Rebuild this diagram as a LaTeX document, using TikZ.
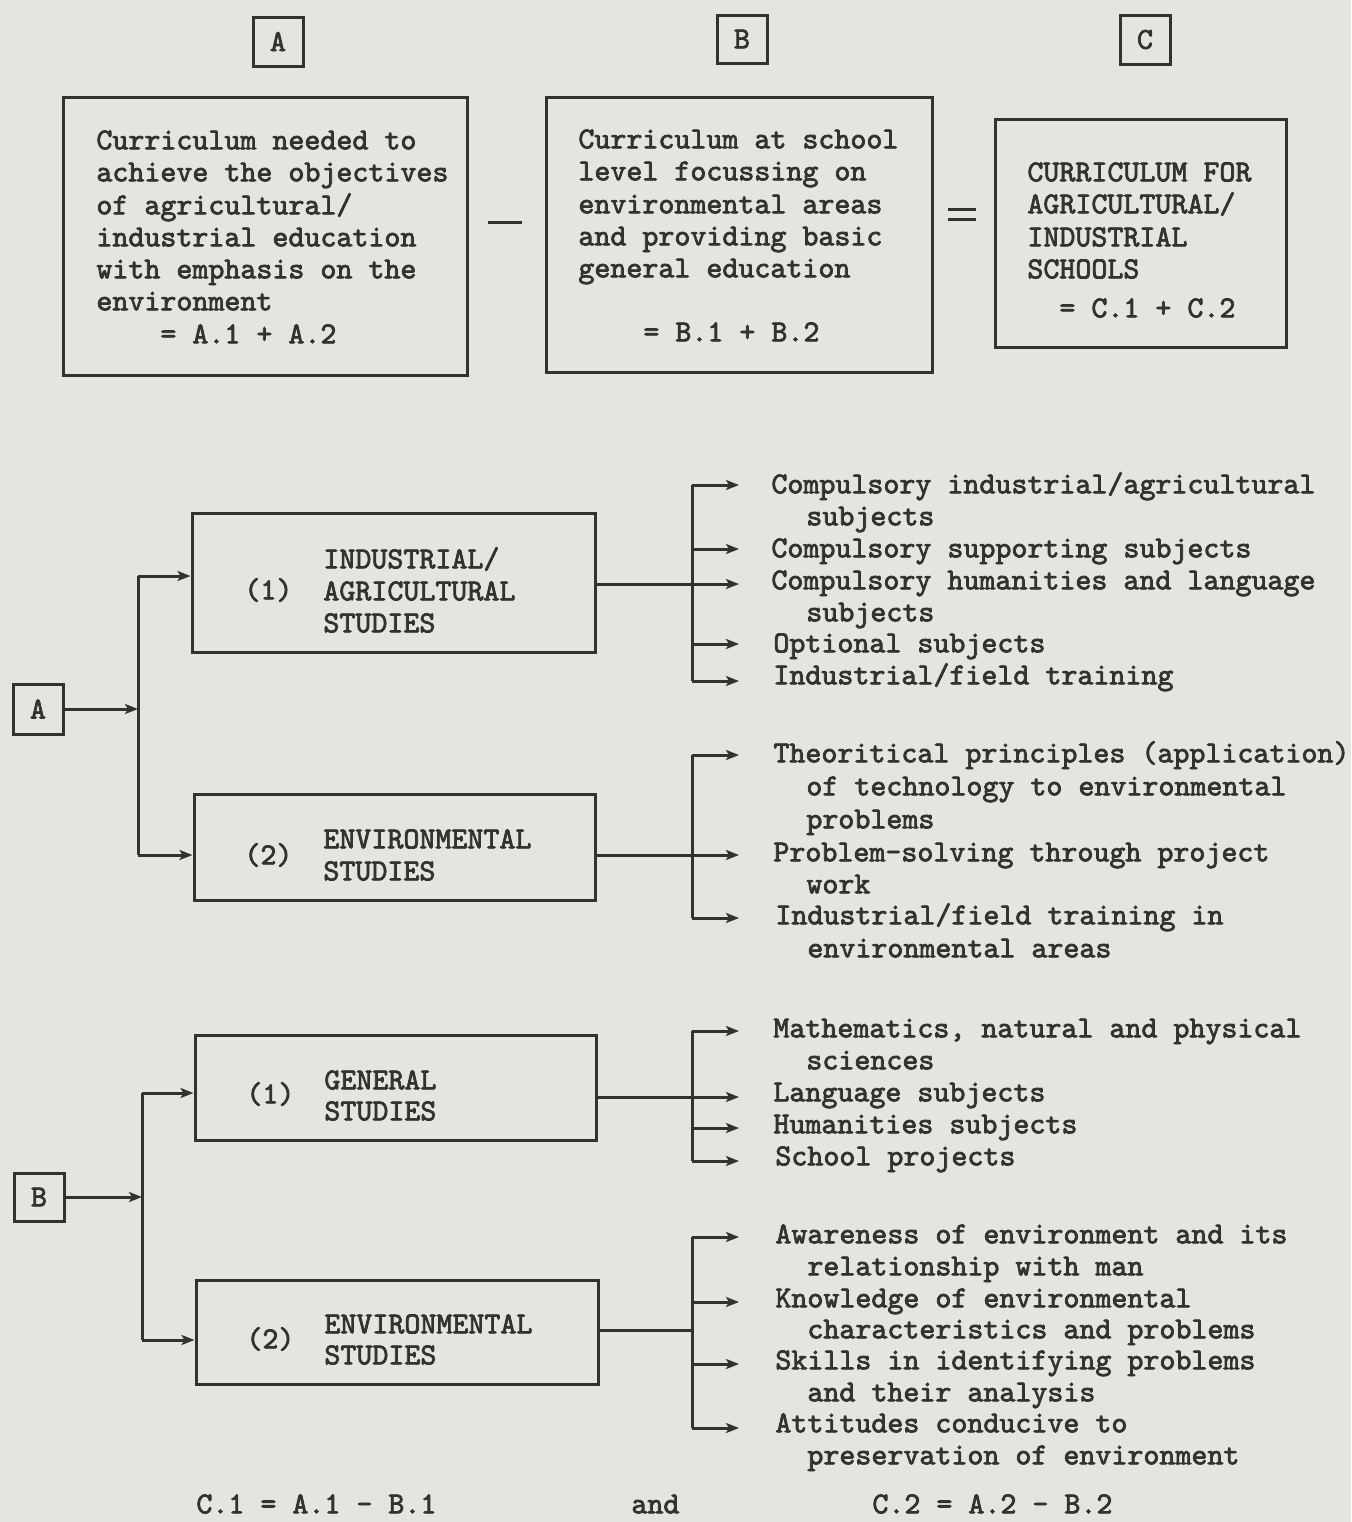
\documentclass[tikz,border=0pt]{standalone}
\usepackage{fontspec}
\usetikzlibrary{arrows.meta,fit}
\newfontfamily\tw{lmmono10-regular}[Extension=.otf,FakeBold=2.4]
\definecolor{paper}{RGB}{227,230,222}
\definecolor{ink}{RGB}{50,50,48}
\begin{document}
\begin{tikzpicture}[x=0.5pt,y=-0.5pt,
  txt/.style={anchor=mid west,inner sep=0pt,yshift=-2pt,font=\tw\fontsize{15.24}{16}\selectfont,text=ink},
  lbl/.style={anchor=center,inner sep=0pt,font=\tw\fontsize{15.24}{16}\selectfont,text=ink},
  box/.style={draw=ink,line width=1.5pt,inner sep=0pt},
  wire/.style={draw=ink,line width=1.5pt},
  arr/.style={wire,-{Stealth[length=6.5pt,width=5pt,inset=1.5pt]}}]

% page
\fill[paper] (0,0) rectangle (1351,1522);
\useasboundingbox (0,0) rectangle (1351,1522);

% ---------- top: A - B = C ----------
\node[box,fit={(253,17)(303,66)}] (hA) {};
\node[box,fit={(717,15)(767,63)}] (hB) {};
\node[box,fit={(1120,15)(1170,64)}] (hC) {};
\node[lbl] (hAt) at (hA) {A};
\node[lbl] (hBt) at (hB) {B};
\node[lbl] (hCt) at (hC) {C};

\node[box,fit={(63,97)(467,375)}] (bA) {};
\node[box,fit={(546,97)(932,372)}] (bB) {};
\node[box,fit={(995,119)(1286,347)}] (bC) {};

\foreach \x/\y/\t [count=\i] in {
  96/141/{Curriculum needed to},
  96/173/{achieve the objectives},
  96/206/{of agricultural/},
  96/238/{industrial education},
  96/270/{with emphasis on the},
  96/302/{environment},
  160/335/{= A.1 + A.2}}
  \node[txt] (ta\i) at (\x,\y) {\t};

\foreach \x/\y/\t [count=\i] in {
  578/140/{Curriculum at school},
  578/172/{level focussing on},
  578/205/{environmental areas},
  578/237/{and providing basic},
  578/269/{general education},
  643/333/{= B.1 + B.2}}
  \node[txt] (tb\i) at (\x,\y) {\t};

\foreach \x/\y/\t [count=\i] in {
  1027/173/{CURRICULUM FOR},
  1027/205/{AGRICULTURAL/},
  1027/238/{INDUSTRIAL},
  1027/270/{SCHOOLS},
  1059/309/{= C.1 + C.2}}
  \node[txt] (tc\i) at (\x,\y) {\t};

% minus and equals signs
\draw[wire] (488,222) -- (522,222);
\draw[wire] (948,209) -- (976,209);
\draw[wire] (948,219) -- (976,219);

% ---------- A branch ----------
\node[box,fit={(13,684)(63,734)}] (sA) {};
\node[lbl] (sAt) at (sA) {A};
\node[box,fit={(192,513)(595,652)}] (m1) {};
\node[box,fit={(194,794)(595,900)}] (m2) {};

\coordinate (jA) at (138,709);
\coordinate (jA1) at (138,576);
\coordinate (jA2) at (138,855);
\draw[arr] (sA.east) -- (jA);
\draw[wire] (jA1) -- (jA2);
\draw[arr] (jA1) -- (m1.west |- jA1);
\draw[arr] (jA2) -- (m2.west |- jA2);

\node[txt] (n11) at (244,591) {(1)};
\node[txt] (m1a) at (323,560) {INDUSTRIAL/};
\node[txt] (m1b) at (323,592) {AGRICULTURAL};
\node[txt] (m1c) at (323,624) {STUDIES};
\node[txt] (n12) at (244,856) {(2)};
\node[txt] (m2a) at (323,840) {ENVIRONMENTAL};
\node[txt] (m2b) at (323,872) {STUDIES};

% outputs of (1)
\coordinate (k1) at (692,584);
\draw[wire] (m1.east |- k1) -- (k1);
\draw[wire] (692,485) -- (692,681);
\foreach \y in {485,549,584,644,681}
  \draw[arr] (692,\y) -- (739,\y);
\foreach \x/\y/\t [count=\i] in {
  771/485/{Compulsory industrial/agricultural},
  806/517/{subjects},
  771/549/{Compulsory supporting subjects},
  771/581/{Compulsory humanities and language},
  806/613/{subjects},
  773/644/{Optional subjects},
  773/676/{Industrial/field training}}
  \node[txt] (o1\i) at (\x,\y) {\t};

% outputs of (2)
\coordinate (k2) at (692,855);
\draw[wire] (m2.east |- k2) -- (k2);
\draw[wire] (692,755) -- (692,918);
\foreach \y in {755,855,918}
  \draw[arr] (692,\y) -- (739,\y);
\foreach \x/\y/\t [count=\i] in {
  773/754/{Theoritical principles (application)},
  806/787/{of technology to environmental},
  806/820/{problems},
  773/853/{Problem-solving through project},
  806/885/{work},
  775/916/{Industrial/field training in},
  807/949/{environmental areas}}
  \node[txt] (o2\i) at (\x,\y) {\t};

% ---------- B branch ----------
\node[box,fit={(14,1173)(64,1221)}] (sB) {};
\node[lbl] (sBt) at (sB) {B};
\node[box,fit={(195,1035)(596,1140)}] (g1) {};
\node[box,fit={(196,1280)(598,1384)}] (g2) {};

\coordinate (jB) at (142,1197);
\coordinate (jB1) at (142,1093);
\coordinate (jB2) at (142,1340);
\draw[arr] (sB.east) -- (jB);
\draw[wire] (jB1) -- (jB2);
\draw[arr] (jB1) -- (g1.west |- jB1);
\draw[arr] (jB2) -- (g2.west |- jB2);

\node[txt] (n21) at (246,1095) {(1)};
\node[txt] (g1a) at (324,1081) {GENERAL};
\node[txt] (g1b) at (324,1112) {STUDIES};
\node[txt] (n22) at (246,1340) {(2)};
\node[txt] (g2a) at (324,1325) {ENVIRONMENTAL};
\node[txt] (g2b) at (324,1356) {STUDIES};

% outputs of general studies
\coordinate (k3) at (692,1097);
\draw[wire] (g1.east |- k3) -- (k3);
\draw[wire] (692,1031) -- (692,1161);
\foreach \y in {1031,1097,1128,1161}
  \draw[arr] (692,\y) -- (739,\y);
\foreach \x/\y/\t [count=\i] in {
  773/1029/{Mathematics, natural and physical},
  806/1061/{sciences},
  773/1093/{Language subjects},
  773/1125/{Humanities subjects},
  775/1157/{School projects}}
  \node[txt] (o3\i) at (\x,\y) {\t};

% outputs of environmental studies
\coordinate (k4) at (692,1330);
\draw[wire] (g2.east |- k4) -- (k4);
\draw[wire] (692,1237) -- (692,1428);
\foreach \y in {1237,1302,1364,1428}
  \draw[arr] (692,\y) -- (739,\y);
\foreach \x/\y/\t [count=\i] in {
  775/1235/{Awareness of environment and its},
  807/1267/{relationship with man},
  775/1299/{Knowledge of environmental},
  807/1330/{characteristics and problems},
  775/1361/{Skills in identifying problems},
  807/1393/{and their analysis},
  775/1424/{Attitudes conducive to},
  807/1456/{preservation of environment}}
  \node[txt] (o4\i) at (\x,\y) {\t};

% ---------- relations ----------
\node[txt] (r1) at (196,1505) {C.1 = A.1 - B.1};
\node[txt] (r2) at (631,1505) {and};
\node[txt] (r3) at (872,1505) {C.2 = A.2 - B.2};

\end{tikzpicture}
\end{document}
